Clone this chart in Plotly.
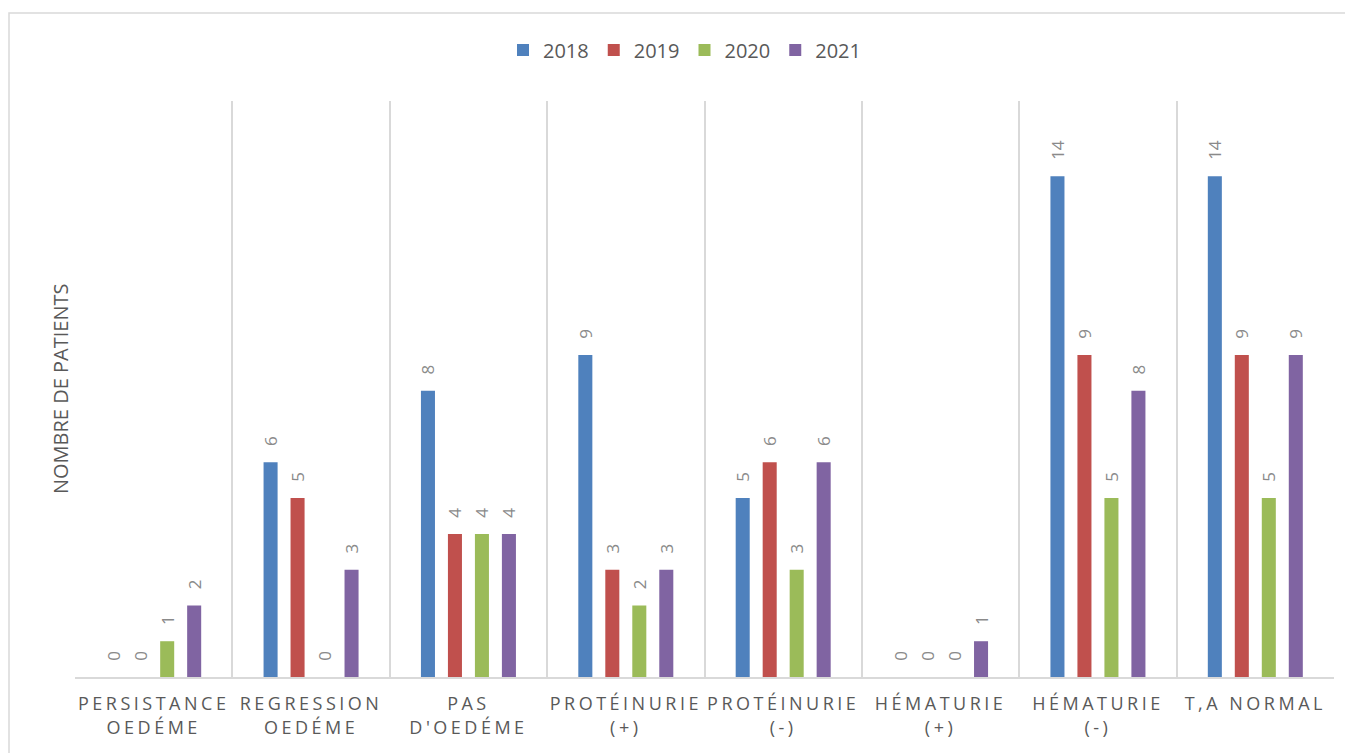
import plotly.graph_objects as go

categories = ["PERSISTANCE<br>OEDÉME", "REGRESSION<br>OEDÉME", "PAS<br>D'OEDÉME",
              "PROTÉINURIE<br>(+)", "PROTÉINURIE<br>(-)", "HÉMATURIE<br>(+)",
              "HÉMATURIE<br>(-)", "T,A NORMAL"]
years = ["2018", "2019", "2020", "2021"]
v2018 = [0, 6, 8, 9, 5, 0, 14, 14]
v2019 = [0, 5, 4, 3, 6, 0, 9, 9]
v2020 = [1, 0, 4, 2, 3, 0, 5, 5]
v2021 = [2, 3, 4, 3, 6, 1, 8, 9]
series = [v2018, v2019, v2020, v2021]
colors = ["#4f81bd", "#c0504d", "#9bbb59", "#8064a2"]

def spaced(lbl):
    parts = lbl.split("<br>")
    return "<br>".join('<span style="letter-spacing:3.5px">%s</span>' % p for p in parts)

tick_text = [spaced(c) for c in categories]

fig = go.Figure()
for name, vals, col in zip(years, series, colors):
    fig.add_trace(go.Bar(
        x=list(range(len(categories))), y=vals, name=name,
        marker=dict(color=col, line=dict(width=0)),
        texttemplate="\u00a0\u00a0\u00a0%{y}", textposition="outside", textangle=-90,
        textfont=dict(family="Open Sans", size=17, color="#8a8a8a"),
        constraintext="none", cliponaxis=False,
    ))

# page body has an 8px margin
W, H = 1345, 745
L, R, T, B = 67, 19, 93, 76
pw, ph = W - L - R, H - T - B

fig.update_layout(
    width=W, height=H,
    margin=dict(l=L, r=R, t=T, b=B, autoexpand=False),
    paper_bgcolor="white", plot_bgcolor="white",
    barmode="group", bargap=0.314, bargroupgap=0.48,
    font=dict(family="Open Sans", color="#595959"),
    legend=dict(orientation="h", x=0.5 - 20 / pw, xanchor="center", y=1.0 + (T - 42) / ph,
                yanchor="middle", font=dict(size=20, color="#595959"),
                itemwidth=30, traceorder="normal"),
    xaxis=dict(
        type="linear", range=[-0.5, len(categories) - 0.5],
        tickvals=list(range(len(categories))), ticktext=tick_text,
        showgrid=False, zeroline=False, showline=True, linecolor="#d9d9d9", linewidth=1.5,
        ticks="", ticklabelstandoff=10,
        tickfont=dict(size=18, color="#595959", family="Open Sans"),
        minor=dict(tickvals=[i + 0.5 for i in range(-1, len(categories))],
                   showgrid=True, gridcolor="#d9d9d9", gridwidth=1.5),
    ),
    yaxis=dict(
        range=[0, 16.1], showgrid=False, showticklabels=False, zeroline=False,
        showline=False, ticks="",
    ),
    annotations=[dict(text="NOMBRE DE PATIENTS", textangle=-90, xref="paper", yref="paper",
                      x=(52 - L) / pw, y=0.5, xanchor="center", yanchor="middle",
                      showarrow=False, font=dict(size=20, color="#595959"))],
    shapes=[dict(type="rect", xref="paper", yref="paper",
                 x0=(1 - L) / pw, x1=(W + 10 - L) / pw,
                 y0=-(B + 10) / ph, y1=1 + (T - 5) / ph,
                 line=dict(color="#d9d9d9", width=1.5), fillcolor="rgba(0,0,0,0)", layer="below")],
)

fig.write_html("out.html")
